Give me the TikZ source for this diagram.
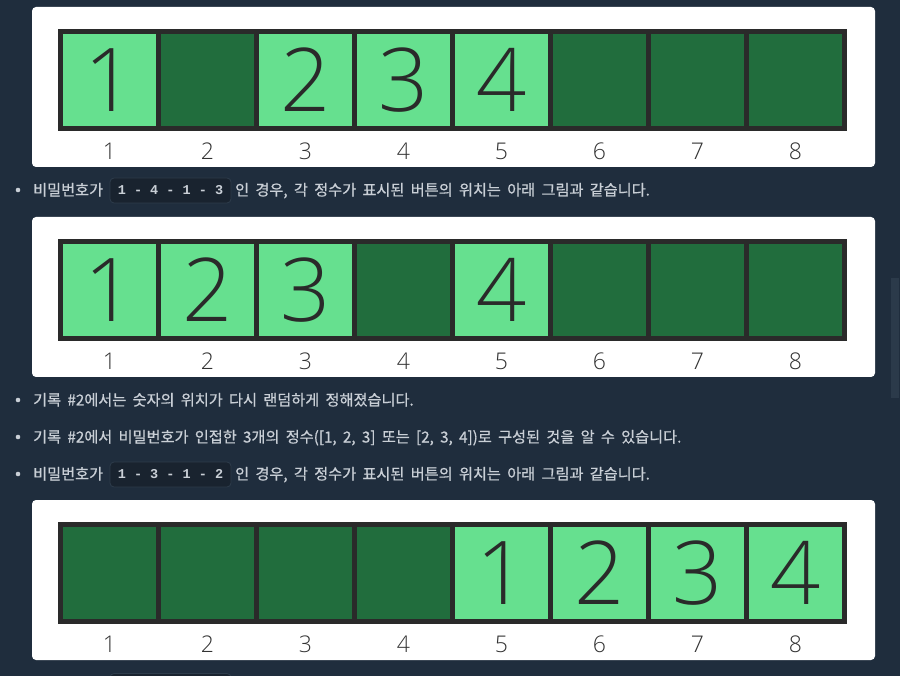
\documentclass[tikz,border=0pt]{standalone}
\usepackage{fontspec}
\setmainfont[WordSpace=1.85,FakeBold=0.7]{Noto Sans CJK KR}
\IfFontExistsTF{Open Sans Light}{\newfontfamily\digitfont{Open Sans Light}}{\newfontfamily\digitfont{Liberation Sans}}
\newfontfamily\codefont{Liberation Mono}
\definecolor{bg}{HTML}{1F2D3D}
\definecolor{txtc}{HTML}{C9CFD6}
\definecolor{codebg}{HTML}{19232F}
\definecolor{codebd}{HTML}{2E3C4B}
\definecolor{lightg}{HTML}{66E08F}
\definecolor{darkg}{HTML}{216D3D}
\definecolor{cellbd}{HTML}{2A2A2A}
\definecolor{lblc}{HTML}{333333}
\definecolor{scrollc}{HTML}{2B3A4A}
\tikzset{
  panelbox/.style={fill=white, rounded corners=4pt, minimum width=843pt, minimum height=160pt, inner sep=0pt},
  cellbox/.style={draw=cellbd, line width=5pt, minimum width=98pt, minimum height=97pt, inner sep=0pt, font=\digitfont\fontsize{88}{88}\selectfont, text=cellbd},
  oncell/.style={cellbox, fill=lightg},
  offcell/.style={cellbox, fill=darkg},
  lbl/.style={inner sep=0pt, font=\digitfont\fontsize{23}{23}\selectfont, text=lblc},
  txt/.style={inner sep=0pt, anchor=base west, font=\fontsize{15.2}{18}\selectfont, text=txtc},
  codebox/.style={fill=codebg, draw=codebd, line width=0.8pt, rounded corners=4pt, minimum width=121pt, minimum height=25pt, inner sep=0pt, font=\codefont\bfseries\fontsize{13.5}{16}\selectfont, text=txtc},
  bulletdot/.style={circle, fill=txtc, minimum size=4.6pt, inner sep=0pt},
}
\newcommand\panelrow[3]{%
  \node[panelbox] (#1) at (453.5,#2+58) {};
  \foreach \d [count=\i] in {#3} {
    \ifnum\d=0
      \node[offcell] (#1c\i) at (11.5+98*\i,#2+51) {};
    \else
      \node[oncell] (#1c\i) at (11.5+98*\i,#2+51) {\d};
    \fi
    \node[lbl] (#1l\i) at (11.5+98*\i,#2+122.5) {\i};
  }
}
\begin{document}
\begin{tikzpicture}[x=1pt,y=-1pt]
\useasboundingbox (0,0) rectangle (900,676);
\fill[bg] (0,0) rectangle (900,676);
\node[fill=scrollc, minimum width=8pt, minimum height=120pt, inner sep=0pt] (scroll) at (895,338) {};

\panelrow{pa}{29}{1,0,2,3,4,0,0,0}
\panelrow{pb}{239}{1,2,3,0,4,0,0,0}
\panelrow{pc}{522}{0,0,0,0,1,2,3,4}

% line 1
\node[bulletdot] (b1) at (18,190) {};
\node[txt] (t1a) at (33,195.5) {비밀번호가};
\node[codebox] (c1) at (170.5,190.5) {1 - 4 - 1 - 3};
\node[txt] (t1b) at (235,195.5) {인 경우, 각 정수가 표시된 버튼의 위치는 아래 그림과 같습니다.};

% line 2
\node[bulletdot] (b2) at (18,400) {};
\node[txt] (t2) at (33,405.5) {기록 \#2에서는 숫자의 위치가 다시 랜덤하게 정해졌습니다.};

% line 3
\node[bulletdot] (b3) at (18,437) {};
\node[txt] (t3) at (33,442.5) {기록 \#2에서 비밀번호가 인접한 3개의 정수([1, 2, 3] 또는 [2, 3, 4])로 구성된 것을 알 수 있습니다.};

% line 4
\node[bulletdot] (b4) at (18,474) {};
\node[txt] (t4a) at (33,479.5) {비밀번호가};
\node[codebox] (c4) at (170.5,474.5) {1 - 3 - 1 - 2};
\node[txt] (t4b) at (235,479.5) {인 경우, 각 정수가 표시된 버튼의 위치는 아래 그림과 같습니다.};

% partially visible code box at the bottom
\begin{scope}
\clip (0,0) rectangle (900,676);
\node[codebox] (c5) at (170.5,686) {};
\end{scope}
\end{tikzpicture}
\end{document}
